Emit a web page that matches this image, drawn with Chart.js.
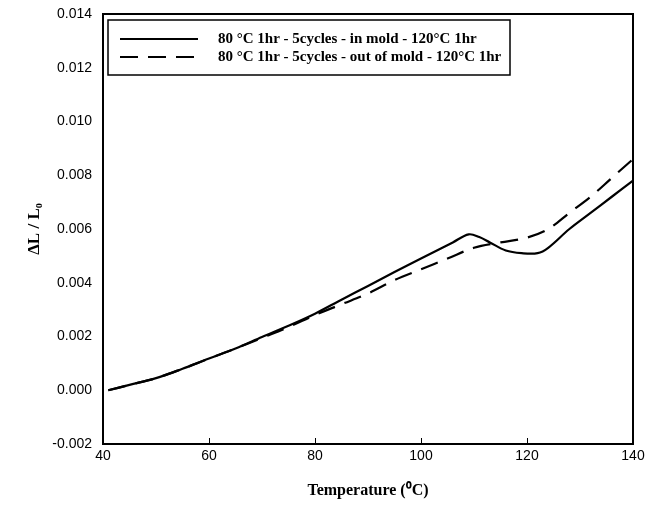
<!DOCTYPE html>
<html><head><meta charset="utf-8">
<script src="https://cdn.jsdelivr.net/npm/chart.js@4/dist/chart.umd.min.js"></script>
<style>html,body{margin:0;padding:0;background:#fff}#wrap{width:659px;height:520px}</style>
</head><body><div id="wrap"><canvas id="c" width="659" height="520"></canvas></div>
<script>
const seriesLabels = ["80 \u00B0C 1hr - 5cycles - in mold - 120\u00B0C 1hr",
                      "80 \u00B0C 1hr - 5cycles - out of mold - 120\u00B0C 1hr"];
const inMoldT = [41,45,50,55,60,65,70,75,80,85,90,95,100,103,106,109,111,113,116,119,122,124,128,132,136,140];
const inMoldV = [0.0000,0.0002,0.00045,0.0008,0.00118,0.00155,0.00198,0.0024,0.00285,0.00337,0.00388,0.0044,0.0049,0.0052,0.0055,0.0058,0.0057,0.0055,0.0052,0.0051,0.0051,0.0053,0.0060,0.0066,0.0072,0.0078];
const outMoldT = [41,45,50,55,60,65,70,75,80,85,90,95,100,105,110,115,120,124,128,132,136,140];
const outMoldV = [0.0000,0.0002,0.00045,0.0008,0.00118,0.00155,0.00195,0.00235,0.0028,0.0032,0.0036,0.0041,0.0045,0.0049,0.0053,0.0055,0.00568,0.0060,0.0066,0.0072,0.0079,0.0086];
const xTicks = [40,60,80,100,120,140];
const yTicks = [-0.002,0.000,0.002,0.004,0.006,0.008,0.010,0.012,0.014];

const toPts = (xs, ys) => xs.map((x,i)=>({x:x, y:ys[i]}));

const framePlugin = {
  id:'frame',
  afterDraw(chart){
    const {ctx, chartArea:a, scales} = chart;
    ctx.save();
    ctx.strokeStyle = '#000';
    ctx.lineWidth = 2;
    ctx.strokeRect(a.left, a.top, a.right-a.left, a.bottom-a.top);
    ctx.lineWidth = 1;
    xTicks.forEach(v=>{
      const px = Math.round(scales.x.getPixelForValue(v))+0.5;
      ctx.beginPath(); ctx.moveTo(px, a.bottom); ctx.lineTo(px, a.bottom-6); ctx.stroke();
    });
    const lx=108, ly=20, lw=402, lh=55;
    ctx.fillStyle='#fff';
    ctx.fillRect(lx,ly,lw,lh);
    ctx.lineWidth=1.5;
    ctx.strokeRect(lx,ly,lw,lh);
    ctx.font = 'bold 15px "Liberation Serif", serif';
    ctx.textBaseline='middle';
    ctx.fillStyle='#000';
    chart.data.datasets.forEach((ds,i)=>{
      const y = ly + 19 + i*18;
      ctx.save();
      ctx.lineWidth = 2;
      ctx.setLineDash(ds.borderDash || []);
      ctx.beginPath(); ctx.moveTo(120,y); ctx.lineTo(198,y); ctx.stroke();
      ctx.restore();
      ctx.fillText(ds.label, 218, y);
    });
    ctx.restore();
  }
};

new Chart(document.getElementById('c'), {
  type:'line',
  data:{datasets:[
    {label:seriesLabels[0], data:toPts(inMoldT,inMoldV), borderColor:'#000', borderWidth:2.2, pointRadius:0, tension:0.35, fill:false},
    {label:seriesLabels[1], data:toPts(outMoldT,outMoldV), borderColor:'#000', borderWidth:2.2, borderDash:[18,10], pointRadius:0, tension:0.35, fill:false}
  ]},
  options:{
    responsive:false, animation:false,
    layout:{padding:{top:14,right:26,left:20,bottom:16}},
    plugins:{legend:{display:false}, tooltip:{enabled:false}},
    scales:{
      x:{type:'linear', min:40, max:140,
        afterBuildTicks(s){ s.ticks = xTicks.map(v=>({value:v})); },
        afterFit(s){ s.height = 60; },
        grid:{display:false, drawTicks:false},
        border:{display:false},
        ticks:{color:'#000', padding:4, font:{family:'"Liberation Sans Narrow","Liberation Sans", sans-serif', size:14}, callback:v=>String(v)},
        title:{display:true, text:'Temperature (\u2070C)', color:'#000', padding:{top:8}, font:{family:'"Liberation Serif", serif', size:16, weight:'bold'}}
      },
      y:{type:'linear', min:-0.002, max:0.014,
        afterBuildTicks(s){ s.ticks = yTicks.map(v=>({value:v})); },
        afterFit(s){ s.width = 83; },
        grid:{display:false, drawTicks:true, tickLength:6, color:'#000'},
        border:{display:false},
        ticks:{color:'#000', padding:5, font:{family:'"Liberation Sans Narrow","Liberation Sans", sans-serif', size:14}, callback:v=>v.toFixed(3)},
        title:{display:true, text:'\u0394L / L\u2080', color:'#000', padding:{bottom:6}, font:{family:'"Liberation Serif", serif', size:17, weight:'bold'}}
      }
    }
  },
  plugins:[framePlugin]
});
</script></body></html>
